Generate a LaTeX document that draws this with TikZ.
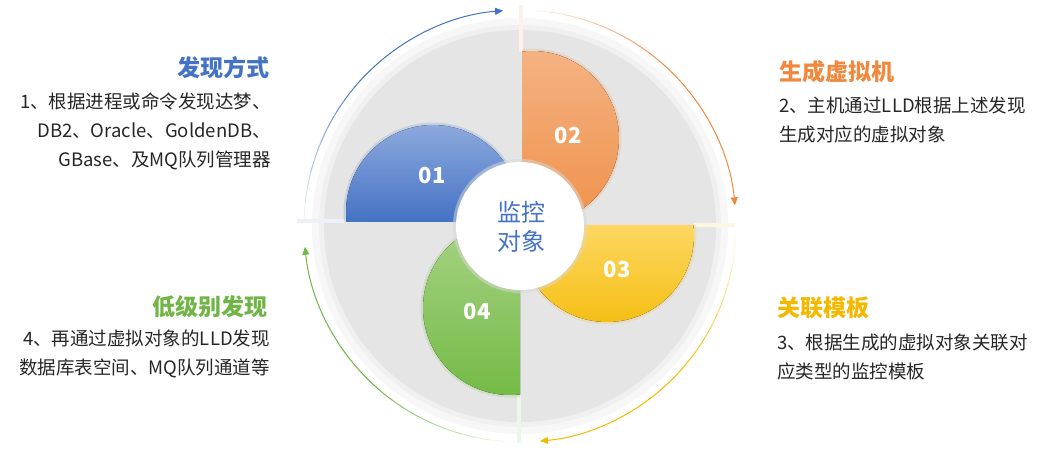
\documentclass[tikz,border=0pt]{standalone}
\usepackage{fontspec}
\setmainfont{Noto Sans CJK SC}
\usetikzlibrary{positioning,arrows.meta,calc}
\definecolor{cblue}{HTML}{4472C4}
\definecolor{bluetop}{HTML}{8FABDE}
\definecolor{corange}{HTML}{F0893D}
\definecolor{orangetop}{HTML}{F4B383}
\definecolor{orangebot}{HTML}{F0914A}
\definecolor{cyellow}{HTML}{F4B800}
\definecolor{yellowtop}{HTML}{FDD862}
\definecolor{yellowbot}{HTML}{F4BE12}
\definecolor{cgreen}{HTML}{70B545}
\definecolor{greentop}{HTML}{A8D386}
\definecolor{greenbot}{HTML}{74BB46}
\definecolor{txtgray}{HTML}{262626}
\tikzset{
  numlbl/.style={text=white,font=\bfseries\fontsize{22}{22}\selectfont,inner sep=0pt},
  ttl/.style={font=\bfseries\fontsize{23}{28}\selectfont,inner sep=0pt},
  body/.style={font=\fontsize{18.5}{29}\selectfont,text=txtgray,inner sep=0pt},
  flow/.style={line width=1pt},
  bar/.style={line width=4pt},
  halo/.style={line width=5pt,opacity=0.18},
}
\begin{document}
\begin{tikzpicture}[x=1pt,y=1pt]
  \useasboundingbox (0,0) rectangle (1055,451);
  \coordinate (C) at (520,225);
  % soft ring and gray disc
  \fill[black!3] (C) circle[radius=208];
  \fill[black!6] (C) circle[radius=201];
  \fill[black!10] (C) circle[radius=196];
  % tinted gaps between the quarters
  \draw[bar,cblue!10] (297,230) -- (347,230);
  \draw[bar,corange!12] (521,446) -- (521,399);
  \draw[bar,cyellow!12] (735,226) -- (694,226);
  \draw[bar,cgreen!12] (519,8) -- (519,56);
  % four half discs
  \coordinate (d1) at (433,239);
  \coordinate (d2) at (532,313);
  \coordinate (d3) at (607,216);
  \coordinate (d4) at (510,143);
  \foreach \d/\sa/\ea/\tc/\bc in {d1/-6.6/186.6/bluetop/cblue, d2/96.6/-96.6/orangetop/orangebot,
      d3/173.4/366.6/yellowtop/yellowbot, d4/83.4/276.6/greentop/greenbot}{
    \draw[halo,\bc] ($(\d)+(\sa:87)$) arc[start angle=\sa,end angle=\ea,radius=87];
    \fill[top color=\tc,bottom color=\bc] ($(\d)+(\sa:87)$) arc[start angle=\sa,end angle=\ea,radius=87] -- cycle;
  }
  \node[numlbl] (n1) at (432,275) {01};
  \node[numlbl] (n2) at (568,315) {02};
  \node[numlbl] (n3) at (617,181) {03};
  \node[numlbl] (n4) at (477,139) {04};
  % centre
  \fill[black!15,opacity=0.5] (C) circle[radius=67];
  \fill[white] (C) circle[radius=64];
  \node[align=center,text=cblue,font=\fontsize{24}{29}\selectfont,inner sep=0pt] (ctr) at (521,224) {监控\\对象};
  % clockwise arrows, fading in
  \foreach \sa/\ea/\col in {178/94.5/cblue, 86/5.5/corange, -3/-84.7/cyellow, 266/185.5/cgreen}{
    \foreach \k in {0,...,9}{
      \pgfmathsetmacro\aa{\sa+(\ea-\sa)*0.05*\k}
      \pgfmathsetmacro\ab{\sa+(\ea-\sa)*0.05*(\k+1)}
      \pgfmathsetmacro\op{0.1*(\k+1)}
      \draw[flow,\col,opacity=\op] ($(C)+(\aa:216)$) arc[start angle=\aa,end angle=\ab,radius=216];
    }
    \pgfmathsetmacro\am{\sa+(\ea-\sa)*0.5}
    \draw[flow,\col,-{Triangle[length=8pt,width=7pt]}] ($(C)+(\am:216)$) arc[start angle=\am,end angle=\ea,radius=216];
  }
  % texts
  \node[ttl,text=cblue,anchor=east] (t1) at (270,383) {发现方式};
  \node[body,align=right,anchor=east] (b1) at (271,320) {1、根据进程或命令发现达梦、\\DB2、Oracle、GoldenDB、\\GBase、及MQ队列管理器};
  \node[ttl,text=corange,anchor=west] (t2) at (779,379) {生成虚拟机};
  \node[body,align=left,anchor=west] (b2) at (779,331) {2、主机通过LLD根据上述发现\\生成对应的虚拟对象};
  \node[ttl,text=cyellow,anchor=west] (t3) at (777,143) {关联模板};
  \node[body,align=left,anchor=west] (b3) at (777,94) {3、根据生成的虚拟对象关联对\\应类型的监控模板};
  \node[ttl,text=cgreen,anchor=east] (t4) at (268,144) {低级别发现};
  \node[body,align=right,anchor=east] (b4) at (270,97) {4、再通过虚拟对象的LLD发现\\数据库表空间、MQ队列通道等};
\end{tikzpicture}
\end{document}
